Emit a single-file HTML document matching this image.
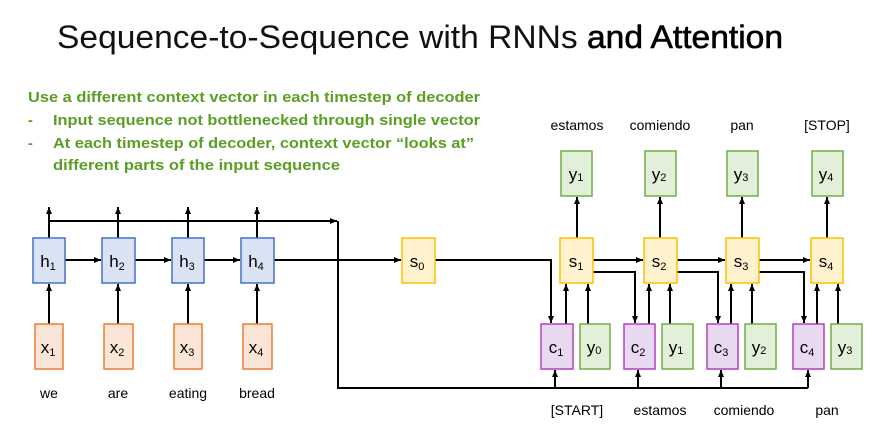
<!DOCTYPE html>
<html><head><meta charset="utf-8"><style>
html,body{margin:0;padding:0;background:#fff;}
svg{display:block;font-family:"Liberation Sans",sans-serif;}
</style></head><body>
<svg width="883" height="434" viewBox="0 0 883 434" xmlns="http://www.w3.org/2000/svg">
<defs>
<marker id="a" markerWidth="8" markerHeight="8" refX="7" refY="4" orient="auto" markerUnits="userSpaceOnUse">
<path d="M0,1 L7,4 L0,7 Z" fill="#000"/></marker>
</defs>
<text x="57" y="48" font-size="32" fill="#111" textLength="726" lengthAdjust="spacingAndGlyphs">Sequence-to-Sequence with RNNs <tspan fill="#000" stroke="#000" stroke-width="0.6">and Attention</tspan></text>
<g fill="#5a9e23" font-weight="bold" font-size="14.5">
<text x="28" y="102" textLength="452" lengthAdjust="spacingAndGlyphs">Use a different context vector in each timestep of decoder</text>
<text x="28" y="125">-</text>
<text x="53" y="125" textLength="427" lengthAdjust="spacingAndGlyphs">Input sequence not bottlenecked through single vector</text>
<text x="28" y="148">-</text>
<text x="53" y="148" textLength="421" lengthAdjust="spacingAndGlyphs">At each timestep of decoder, context vector “looks at”</text>
<text x="53" y="170" textLength="287" lengthAdjust="spacingAndGlyphs">different parts of the input sequence</text>
</g>
<g stroke="#000" stroke-width="2" fill="none">
<line x1="49" y1="324" x2="49" y2="284" marker-end="url(#a)"/>
<line x1="118" y1="324" x2="118" y2="284" marker-end="url(#a)"/>
<line x1="188" y1="324" x2="188" y2="284" marker-end="url(#a)"/>
<line x1="257" y1="324" x2="257" y2="284" marker-end="url(#a)"/>
<line x1="65" y1="260" x2="101" y2="260" marker-end="url(#a)"/>
<line x1="135" y1="260" x2="171" y2="260" marker-end="url(#a)"/>
<line x1="204" y1="260" x2="240" y2="260" marker-end="url(#a)"/>
<line x1="274" y1="260" x2="401" y2="260" marker-end="url(#a)"/>
<line x1="49" y1="238" x2="49" y2="207" marker-end="url(#a)"/>
<line x1="118" y1="238" x2="118" y2="207" marker-end="url(#a)"/>
<line x1="188" y1="238" x2="188" y2="207" marker-end="url(#a)"/>
<line x1="257" y1="238" x2="257" y2="207" marker-end="url(#a)"/>
<line x1="49" y1="221" x2="337" y2="221" marker-end="url(#a)"/>
<polyline points="338,221 338,388 808,388"/>
<line x1="555" y1="388" x2="555" y2="370" marker-end="url(#a)"/>
<line x1="638" y1="388" x2="638" y2="370" marker-end="url(#a)"/>
<line x1="721" y1="388" x2="721" y2="370" marker-end="url(#a)"/>
<line x1="808" y1="388" x2="808" y2="370" marker-end="url(#a)"/>
<polyline points="435,260 551,260 551,323" marker-end="url(#a)"/>
<polyline points="593,272 635,272 635,323" marker-end="url(#a)"/>
<polyline points="677,272 718,272 718,323" marker-end="url(#a)"/>
<polyline points="759,272 804,272 804,323" marker-end="url(#a)"/>
<line x1="593" y1="260" x2="643" y2="260" marker-end="url(#a)"/>
<line x1="677" y1="260" x2="725" y2="260" marker-end="url(#a)"/>
<line x1="759" y1="260" x2="810" y2="260" marker-end="url(#a)"/>
<line x1="566" y1="324" x2="566" y2="284" marker-end="url(#a)"/>
<line x1="588" y1="324" x2="588" y2="284" marker-end="url(#a)"/>
<line x1="649" y1="324" x2="649" y2="284" marker-end="url(#a)"/>
<line x1="670" y1="324" x2="670" y2="284" marker-end="url(#a)"/>
<line x1="731" y1="324" x2="731" y2="284" marker-end="url(#a)"/>
<line x1="752" y1="324" x2="752" y2="284" marker-end="url(#a)"/>
<line x1="817" y1="324" x2="817" y2="284" marker-end="url(#a)"/>
<line x1="838" y1="324" x2="838" y2="284" marker-end="url(#a)"/>
<line x1="577" y1="238" x2="577" y2="197" marker-end="url(#a)"/>
<line x1="660" y1="238" x2="660" y2="197" marker-end="url(#a)"/>
<line x1="742" y1="238" x2="742" y2="197" marker-end="url(#a)"/>
<line x1="827" y1="238" x2="827" y2="197" marker-end="url(#a)"/>
</g>
<g stroke-width="1.5">
<g fill="#dae3f3" stroke="#4472c4">
<rect x="33" y="238" width="32" height="45"/><rect x="102" y="238" width="33" height="45"/>
<rect x="172" y="238" width="32" height="45"/><rect x="241" y="238" width="33" height="45"/>
</g>
<g fill="#fbe5d6" stroke="#ed7d31">
<rect x="35" y="324" width="28" height="45"/><rect x="104" y="324" width="29" height="45"/>
<rect x="174" y="324" width="28" height="45"/><rect x="243" y="324" width="29" height="45"/>
</g>
<g fill="#fff2cc" stroke="#ffc000">
<rect x="402" y="238" width="33" height="45"/>
<rect x="560" y="238" width="33" height="45"/><rect x="644" y="238" width="33" height="45"/>
<rect x="726" y="238" width="33" height="45"/><rect x="811" y="238" width="32" height="45"/>
</g>
<g fill="#e2f0d9" stroke="#70ad47">
<rect x="561" y="151" width="31" height="45"/><rect x="645" y="151" width="31" height="45"/>
<rect x="727" y="151" width="31" height="45"/><rect x="812" y="151" width="31" height="45"/>
<rect x="580" y="324" width="30" height="45"/><rect x="662" y="324" width="31" height="45"/>
<rect x="745" y="324" width="31" height="45"/><rect x="831" y="324" width="31" height="45"/>
</g>
<g fill="#e8d8f0" stroke="#b040c0">
<rect x="541" y="324" width="32" height="45"/><rect x="624" y="324" width="31" height="45"/>
<rect x="707" y="324" width="31" height="45"/><rect x="793" y="324" width="31" height="45"/>
</g>
</g>
<g font-size="17" fill="#000" text-anchor="middle">
<text x="48" y="267">h<tspan font-size="11" dy="3">1</tspan></text>
<text x="117" y="267">h<tspan font-size="11" dy="3">2</tspan></text>
<text x="187" y="267">h<tspan font-size="11" dy="3">3</tspan></text>
<text x="256" y="267">h<tspan font-size="11" dy="3">4</tspan></text>
<text x="48" y="353">x<tspan font-size="11" dy="3">1</tspan></text>
<text x="117" y="353">x<tspan font-size="11" dy="3">2</tspan></text>
<text x="187" y="353">x<tspan font-size="11" dy="3">3</tspan></text>
<text x="256" y="353">x<tspan font-size="11" dy="3">4</tspan></text>
<text x="417" y="267">s<tspan font-size="11" dy="3">0</tspan></text>
<text x="576" y="267">s<tspan font-size="11" dy="3">1</tspan></text>
<text x="659" y="267">s<tspan font-size="11" dy="3">2</tspan></text>
<text x="741" y="267">s<tspan font-size="11" dy="3">3</tspan></text>
<text x="826" y="267">s<tspan font-size="11" dy="3">4</tspan></text>
<text x="576" y="180">y<tspan font-size="11" dy="1">1</tspan></text>
<text x="659" y="180">y<tspan font-size="11" dy="1">2</tspan></text>
<text x="741" y="180">y<tspan font-size="11" dy="1">3</tspan></text>
<text x="826" y="180">y<tspan font-size="11" dy="1">4</tspan></text>
<text x="556" y="353">c<tspan font-size="11" dy="3">1</tspan></text>
<text x="638" y="353">c<tspan font-size="11" dy="3">2</tspan></text>
<text x="721" y="353">c<tspan font-size="11" dy="3">3</tspan></text>
<text x="807" y="353">c<tspan font-size="11" dy="3">4</tspan></text>
<text x="594" y="353">y<tspan font-size="11" dy="1">0</tspan></text>
<text x="676" y="353">y<tspan font-size="11" dy="1">1</tspan></text>
<text x="759" y="353">y<tspan font-size="11" dy="1">2</tspan></text>
<text x="845" y="353">y<tspan font-size="11" dy="1">3</tspan></text>
</g>
<g font-size="14" fill="#000" text-anchor="middle">
<text x="49" y="398">we</text><text x="118" y="398">are</text>
<text x="188" y="398">eating</text><text x="257" y="398">bread</text>
<text x="577" y="130">estamos</text><text x="660" y="130">comiendo</text>
<text x="742" y="130">pan</text><text x="827" y="130">[STOP]</text>
<text x="577" y="415">[START]</text><text x="660" y="415">estamos</text>
<text x="744" y="415">comiendo</text><text x="827" y="415">pan</text>
</g>
</svg>
</body></html>
